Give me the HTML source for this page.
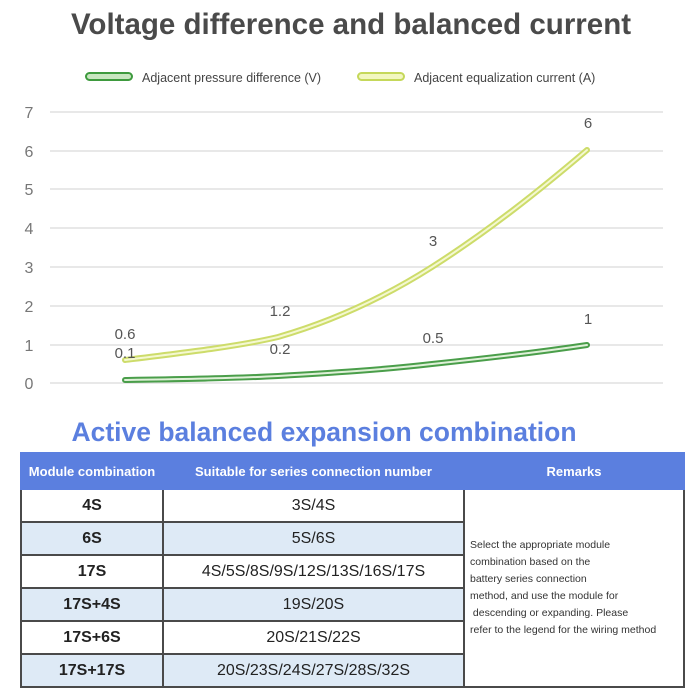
<!DOCTYPE html>
<html><head><style>
body{margin:0;background:#fff;width:700px;height:700px;overflow:hidden;font-family:"Liberation Sans",sans-serif;}
table{position:absolute;left:20px;top:452px;border-collapse:collapse;width:665px;}
td,th{border:2px solid #4a4a4a;text-align:center;padding:0;color:#222;}
th{background:#5b7fdf;color:#fff;font-size:13px;font-weight:bold;height:34px;border-color:#5b7fdf;}
td{height:31px;font-size:16px;}
td.c1{font-weight:bold;}
tr.b td.c1,tr.b td.c2{background:#deeaf6;}
td.r{background:#fff;text-align:left;font-size:10.5px;line-height:17px;padding-left:5px;color:#333;}
</style></head><body>
<svg width="700" height="450" style="position:absolute;left:0;top:0" font-family="Liberation Sans, sans-serif">
<text x="351" y="34" text-anchor="middle" font-size="29.5" font-weight="bold" fill="#4a4a4a">Voltage difference and balanced current</text>
<rect x="86" y="73" width="46" height="7" rx="3.5" fill="#c8e6c0" stroke="#3e9a3e" stroke-width="2"/>
<text x="142" y="82" font-size="12.5" fill="#444">Adjacent pressure difference (V)</text>
<rect x="358" y="73" width="46" height="7" rx="3.5" fill="#f2f7c0" stroke="#c5d85a" stroke-width="2"/>
<text x="414" y="82" font-size="12.5" fill="#444">Adjacent equalization current (A)</text>
<g stroke="#e0e0e0" stroke-width="1.5">
<line x1="50" x2="663" y1="112" y2="112"/><line x1="50" x2="663" y1="151" y2="151"/>
<line x1="50" x2="663" y1="189" y2="189"/><line x1="50" x2="663" y1="228" y2="228"/>
<line x1="50" x2="663" y1="267" y2="267"/><line x1="50" x2="663" y1="306" y2="306"/>
<line x1="50" x2="663" y1="345" y2="345"/><line x1="50" x2="663" y1="383" y2="383"/>
</g>
<g font-size="16" fill="#777" text-anchor="middle">
<text x="29" y="118">7</text><text x="29" y="157">6</text><text x="29" y="195">5</text><text x="29" y="234">4</text>
<text x="29" y="273">3</text><text x="29" y="312">2</text><text x="29" y="351">1</text><text x="29" y="389">0</text>
</g>
<path d="M125,360 C190,352 240,346 278,337 C330,322 380,300 432,267 C490,230 540,190 587,150" fill="none" stroke="#cddc6a" stroke-width="6" stroke-linecap="round"/>
<path d="M125,360 C190,352 240,346 278,337 C330,322 380,300 432,267 C490,230 540,190 587,150" fill="none" stroke="#f4f8d0" stroke-width="2" stroke-linecap="round"/>
<path d="M125,380 C200,379 240,378 278,376 C330,373 380,370 432,364 C490,358 540,352 587,345" fill="none" stroke="#4a9e4a" stroke-width="6" stroke-linecap="round"/>
<path d="M125,380 C200,379 240,378 278,376 C330,373 380,370 432,364 C490,358 540,352 587,345" fill="none" stroke="#dff0d8" stroke-width="2" stroke-linecap="round"/>
<g font-size="15" fill="#555" text-anchor="middle">
<text x="125" y="339">0.6</text><text x="125" y="358">0.1</text>
<text x="280" y="316">1.2</text><text x="280" y="354">0.2</text>
<text x="433" y="246">3</text><text x="433" y="343">0.5</text>
<text x="588" y="128">6</text><text x="588" y="324">1</text>
</g>
<text x="324" y="441" text-anchor="middle" font-size="26.5" font-weight="bold" fill="#5b7fdf">Active balanced expansion combination</text>
</svg>
<table>
<tr><th style="width:140px">Module combination</th><th style="width:299px">Suitable for series connection number</th><th>Remarks</th></tr>
<tr><td class="c1">4S</td><td class="c2">3S/4S</td><td class="r" rowspan="6">Select the appropriate module<br>combination based on the<br>battery series connection<br>method, and use the module for<br>&nbsp;descending or expanding. Please<br>refer to the legend for the wiring method</td></tr>
<tr class="b"><td class="c1">6S</td><td class="c2">5S/6S</td></tr>
<tr><td class="c1">17S</td><td class="c2">4S/5S/8S/9S/12S/13S/16S/17S</td></tr>
<tr class="b"><td class="c1">17S+4S</td><td class="c2">19S/20S</td></tr>
<tr><td class="c1">17S+6S</td><td class="c2">20S/21S/22S</td></tr>
<tr class="b"><td class="c1">17S+17S</td><td class="c2">20S/23S/24S/27S/28S/32S</td></tr>
</table>
</body></html>
